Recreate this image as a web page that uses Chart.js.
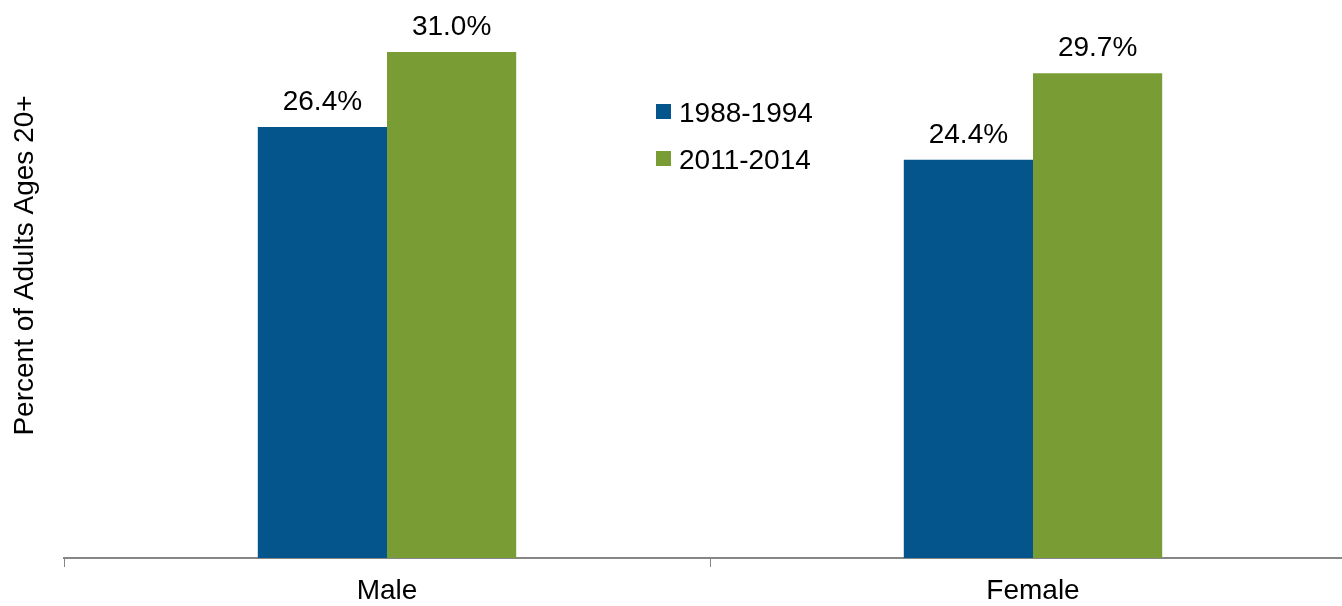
<!DOCTYPE html>
<html>
<head>
<meta charset="utf-8">
<script src="https://cdn.jsdelivr.net/npm/chart.js@4/dist/chart.umd.min.js"></script>
<style>
  html, body { margin: 0; padding: 0; background: #fff; overflow: hidden; }
  #wrap { width: 1342px; height: 606px; overflow: hidden; }
</style>
</head>
<body>
<div id="wrap"><canvas id="bars" width="1360" height="606"></canvas></div>
<script>
const categories = ['Male', 'Female'];
const series1988 = [26.4, 24.4];
const series2011 = [31.0, 29.7];
const seriesNames = ['1988-1994', '2011-2014'];
const yTitle = 'Percent of Adults Ages 20+';

const BLUE = '#03558b';
const GREEN = '#7a9c35';
const FONT = '"Liberation Sans", Arial, sans-serif';

// value labels above each bar
const valueLabels = {
  id: 'valueLabels',
  afterDatasetsDraw(chart) {
    const ctx = chart.ctx;
    ctx.save();
    ctx.font = '28px ' + FONT;
    ctx.fillStyle = '#000';
    ctx.textAlign = 'center';
    ctx.textBaseline = 'alphabetic';
    chart.data.datasets.forEach((ds, i) => {
      chart.getDatasetMeta(i).data.forEach((bar, j) => {
        ctx.fillText(ds.data[j].toFixed(1) + '%', bar.x, bar.y - 17);
      });
    });
    ctx.restore();
  }
};

// legend in the middle of the plot and the rotated y title
const extras = {
  id: 'extras',
  afterDraw(chart) {
    const ctx = chart.ctx;
    ctx.save();
    ctx.font = '28px ' + FONT;
    ctx.textBaseline = 'alphabetic';
    chart.data.datasets.forEach((ds, i) => {
      const top = 104 + i * 47;
      ctx.fillStyle = ds.backgroundColor;
      ctx.fillRect(656, top, 15, 15);
      ctx.fillStyle = '#000';
      ctx.textAlign = 'left';
      ctx.fillText(ds.label, 679, top + 18);
    });
    ctx.translate(33, 265.5);
    ctx.rotate(-Math.PI / 2);
    ctx.textAlign = 'center';
    ctx.fillText(yTitle, 0, 0);
    ctx.restore();
  }
};

new Chart('bars', {
  type: 'bar',
  data: {
    labels: categories,
    datasets: [
      { label: seriesNames[0], data: series1988, backgroundColor: BLUE },
      { label: seriesNames[1], data: series2011, backgroundColor: GREEN }
    ]
  },
  options: {
    responsive: false,
    animation: false,
    categoryPercentage: 0.4,
    barPercentage: 1.0,
    layout: { padding: { left: 64, right: 4, top: 3, bottom: 0 } },
    plugins: {
      legend: { display: false },
      tooltip: { enabled: false }
    },
    scales: {
      y: { display: false, min: 0, max: 34 },
      x: {
        afterFit(scale) { scale.height = 48; },
        border: { display: true, color: '#868686', width: 2 },
        grid: { drawOnChartArea: false, drawTicks: true, tickLength: 9, color: '#868686', lineWidth: 1, offset: true },
        ticks: { color: '#000', font: { family: FONT, size: 28 }, padding: 7 }
      }
    }
  },
  plugins: [valueLabels, extras]
});
</script>
</body>
</html>
